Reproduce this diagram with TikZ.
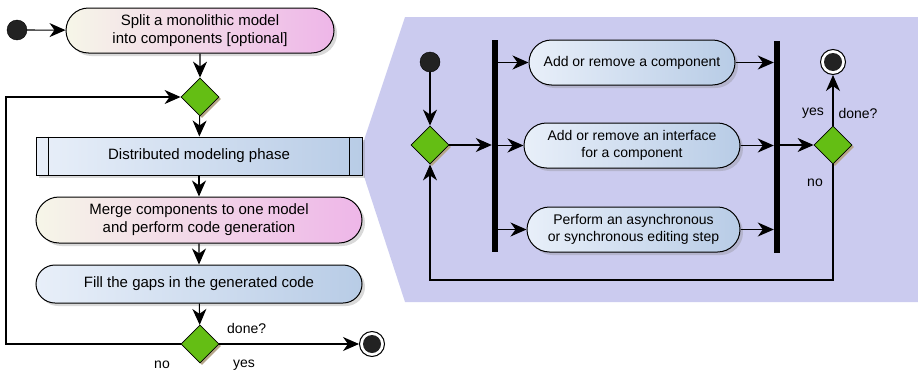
\documentclass[tikz,border=0pt]{standalone}
\usepackage{fontspec}
\setmainfont{Liberation Sans}
\usetikzlibrary{arrows.meta,shapes.geometric,shapes.misc,shadows,calc}
\definecolor{lav}{HTML}{CBCBEF}
\definecolor{dgreen}{HTML}{64BE14}
\definecolor{pinkL}{HTML}{F6F6E8}
\definecolor{pinkR}{HTML}{EEB6E8}
\definecolor{blueL}{HTML}{E8EFF9}
\definecolor{blueR}{HTML}{B8CCE6}
\definecolor{dark}{HTML}{222222}
\definecolor{dshadow}{HTML}{B5A588}
\begin{document}
\begin{tikzpicture}[x=1pt,y=-1pt,
  >={Stealth[length=16pt,width=14pt,inset=5pt]},
  act/.style={rounded rectangle, draw=black, line width=1pt, inner sep=0pt, align=center,
    font=\fontsize{15}{18}\selectfont,
    drop shadow={shadow xshift=3pt,shadow yshift=-3pt,opacity=0.3}},
  ract/.style={act, font=\fontsize{14}{17}\selectfont},
  pinkfill/.style={left color=pinkL, right color=pinkR},
  bluefill/.style={left color=blueL, right color=blueR},
  dec/.style={diamond, aspect=1, draw=black, line width=0.8pt, fill=dgreen, inner sep=0pt,
    minimum width=38pt, minimum height=38pt,
    drop shadow={shadow xshift=2pt,shadow yshift=-2pt,fill=dshadow,opacity=1}},
  startdot/.style={circle, fill=dark, draw=black, inner sep=0pt, minimum size=20pt},
  endring/.style={circle, fill=white, draw=black, line width=1pt, inner sep=0pt, minimum size=25pt},
  enddot/.style={circle, fill=dark, inner sep=0pt, minimum size=18pt},
  bar/.style={rectangle, fill=black, inner sep=0pt, minimum width=6pt},
  flow/.style={line width=1.1pt, ->},
  lbl/.style={font=\fontsize{14}{17}\selectfont, inner sep=0pt}
]
\useasboundingbox (0,0) rectangle (918,375);
% panel
\fill[lav] (405,17) -- (918,17) -- (918,302) -- (405,302) -- (358,158) -- cycle;

% ---------------- left flow
\node[startdot] (s0) at (17,30) {};
\node[act, pinkfill, minimum width=268pt, minimum height=45pt] (a1) at (200,30.5)
  {Split a monolithic model\\into components [optional]};
\node[dec] (d1) at (200,97) {};
\node[act, bluefill, rectangle, minimum width=326pt, minimum height=38pt] (dm) at (199,156)
  {Distributed modeling phase};
\draw[line width=1pt] ([xshift=13pt]dm.north west) -- ([xshift=13pt]dm.south west);
\draw[line width=1pt] ([xshift=-13pt]dm.north east) -- ([xshift=-13pt]dm.south east);
\node[act, pinkfill, minimum width=326pt, minimum height=46pt] (mg) at (199,220)
  {Merge components to one model\\and perform code generation};
\node[act, bluefill, minimum width=326pt, minimum height=38pt] (fg) at (199,284)
  {Fill the gaps in the generated code};
\node[dec] (d2) at (200,344) {};
\node[endring] (e0) at (372,344) {};
\node[enddot] (e0i) at (372,344) {};

\draw[flow] (s0) -- (a1);
\draw[flow] (a1) -- (d1);
\draw[flow] (d1) -- (dm);
\draw[flow] (dm) -- (mg);
\draw[flow] (mg) -- (fg);
\draw[flow] (fg) -- (d2);
\draw[flow] (d2) -- (e0);
\coordinate (lb) at (6,344);
\coordinate (lt) at (6,97);
\draw[flow] (d2.west) -- (lb) -- (lt) -- (d1.west);
\node[lbl, anchor=west] (ldone) at (227,328) {done?};
\node[lbl] (lno) at (162,365) {no};
\node[lbl] (lyes) at (244,365) {yes};

% ---------------- right panel
\node[startdot] (s1) at (430,62) {};
\node[dec] (d3) at (430,145) {};
\node[bar, minimum height=212pt] (fork) at (495,146) {};
\node[ract, bluefill, minimum width=206pt, minimum height=45pt] (b1) at (632,62.5)
  {Add or remove a component};
\node[ract, bluefill, minimum width=216pt, minimum height=45pt] (b2) at (632,145.5)
  {Add or remove an interface\\for a component};
\node[ract, bluefill, minimum width=213pt, minimum height=45pt] (b3) at (633.5,229.5)
  {Perform an asynchronous\\or synchronous editing step};
\node[bar, minimum height=212pt] (join) at (777,147) {};
\node[dec] (d4) at (833,145) {};
\node[endring] (e1) at (833,62) {};
\node[enddot] (e1i) at (833,62) {};

\draw[flow] (s1) -- (d3);
\draw[flow] (d3.east) -- (d3.east -| fork.west);
\draw[flow] (fork.east |- b1.west) -- (b1.west);
\draw[flow] (fork.east |- b2.west) -- (b2.west);
\draw[flow] (fork.east |- b3.west) -- (b3.west);
\draw[flow] (b1.east) -- (b1.east -| join.west);
\draw[flow] (b2.east) -- (b2.east -| join.west);
\draw[flow] (b3.east) -- (b3.east -| join.west);
\draw[flow] (join.east |- d4.west) -- (d4.west);
\draw[flow] (d4) -- (e1);
\coordinate (rb) at (833,280);
\coordinate (rl) at (430,280);
\draw[flow] (d4.south) -- (rb) -- (rl) -- (d3.south);
\node[lbl] (ryes) at (813,113) {yes};
\node[lbl] (rdone) at (858,113) {done?};
\node[lbl] (rno) at (815,183) {no};
\end{tikzpicture}
\end{document}
